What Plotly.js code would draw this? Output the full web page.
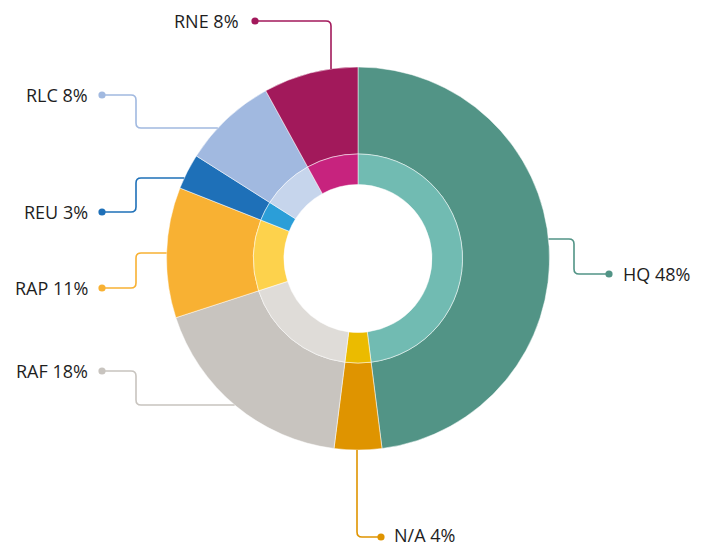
<!DOCTYPE html>
<html>
<head>
<meta charset="utf-8">
<script src="https://cdn.plot.ly/plotly-3.0.1.min.js"></script>
<style>html,body{margin:0;padding:0;background:#fff;}#chart{width:710px;height:546px;}</style>
</head>
<body>
<div id="chart"></div>
<script>
// ---- data ----
const categories = ["HQ", "N/A", "RAF", "RAP", "REU", "RLC", "RNE"];
const shares = [48, 4, 18, 11, 3, 8, 8];
const outerColors = ["#529486", "#df9400", "#c8c4bf", "#f8b133", "#1e70b8", "#a1b9e0", "#a2195b"];
const innerColors = ["#71bbb2", "#ebbb00", "#dfdcd8", "#fdd24c", "#2b9ed8", "#c6d5ec", "#c7237e"];
const labelTexts = categories.map((c, i) => c + " " + shares[i] + "%");

// ---- layout geometry (pixels) ----
const W = 710, H = 546;
const cx = 358, cy = 258.5, R = 191.5, rMid = 104.5, rHole = 74;

const px = x => x / W;
const py = y => (H - y) / H;

const outerTrace = {
  type: "pie", values: shares, labels: categories, sort: false, direction: "clockwise", rotation: 0,
  hole: rMid / R, textinfo: "none", hoverinfo: "label+percent", showlegend: false,
  marker: {colors: outerColors, line: {color: "#ffffff", width: 0.5}},
  domain: {x: [px(cx - R), px(cx + R)], y: [py(cy + R), py(cy - R)]}
};
const innerTrace = {
  type: "pie", values: shares, labels: categories, sort: false, direction: "clockwise", rotation: 0,
  hole: rHole / rMid, textinfo: "none", hoverinfo: "label+percent", showlegend: false,
  marker: {colors: innerColors, line: {color: "#ffffff", width: 0.5}},
  domain: {x: [px(cx - rMid), px(cx + rMid)], y: [py(cy + rMid), py(cy - rMid)]}
};

// leader line routing: start on ring edge, elbow, end at dot
function edgeXAtY(y, side) { const d = Math.sqrt(R * R - (y - cy) * (y - cy)); return side > 0 ? cx + d : cx - d; }
function edgeYAtX(x, side) { const d = Math.sqrt(R * R - (x - cx) * (x - cx)); return side > 0 ? cy + d : cy - d; }

const leaders = [
  {pts: [[edgeXAtY(239, 1), 239], [574, 239], [574, 274], [609, 274]], tx: 622, ty: 274, align: "left"},
  {pts: [[357, edgeYAtX(357, 1)], [357, 537], [381, 537]], tx: 393, ty: 534.5, align: "left"},
  {pts: [[edgeXAtY(405, -1), 405], [136, 405], [136, 371], [102, 371]], tx: 89, ty: 371, align: "right"},
  {pts: [[edgeXAtY(253, -1), 253], [136, 253], [136, 288], [102, 288]], tx: 89, ty: 288, align: "right"},
  {pts: [[edgeXAtY(178, -1), 178], [136, 178], [136, 212], [102, 212]], tx: 89, ty: 212, align: "right"},
  {pts: [[edgeXAtY(128, -1), 128], [136, 128], [136, 95], [102, 95]], tx: 89, ty: 95, align: "right"},
  {pts: [[331, edgeYAtX(331, -1)], [331, 21], [255, 21]], tx: 240, ty: 21, align: "right"}
];

function roundedPath(pts, r) {
  let s = "M" + px(pts[0][0]) + "," + py(pts[0][1]);
  for (let i = 1; i < pts.length - 1; i++) {
    const [x0, y0] = pts[i - 1], [x1, y1] = pts[i], [x2, y2] = pts[i + 1];
    const d1 = Math.hypot(x1 - x0, y1 - y0), d2 = Math.hypot(x2 - x1, y2 - y1);
    const a = [x1 - (x1 - x0) / d1 * r, y1 - (y1 - y0) / d1 * r];
    const b = [x1 + (x2 - x1) / d2 * r, y1 + (y2 - y1) / d2 * r];
    s += " L" + px(a[0]) + "," + py(a[1]) + " Q" + px(x1) + "," + py(y1) + " " + px(b[0]) + "," + py(b[1]);
  }
  const last = pts[pts.length - 1];
  s += " L" + px(last[0]) + "," + py(last[1]);
  return s;
}

const shapes = [], annotations = [];
leaders.forEach((L, i) => {
  shapes.push({type: "path", xref: "paper", yref: "paper", path: roundedPath(L.pts, 5),
    line: {color: outerColors[i], width: 1.6}});
  const end = L.pts[L.pts.length - 1], dr = 3.6;
  shapes.push({type: "circle", xref: "paper", yref: "paper",
    x0: px(end[0] - dr), x1: px(end[0] + dr), y0: py(end[1] + dr), y1: py(end[1] - dr),
    fillcolor: outerColors[i], line: {width: 0}});
  annotations.push({xref: "paper", yref: "paper", x: px(L.tx), y: py(L.ty), text: labelTexts[i],
    showarrow: false, xanchor: L.align, yanchor: "middle", borderpad: 0,
    font: {family: "'Open Sans', sans-serif", size: 18, color: "#1e1e1e", weight: 400}});
});

const layout = {
  width: W, height: H, margin: {l: 0, r: 0, t: 0, b: 0},
  paper_bgcolor: "#ffffff", plot_bgcolor: "#ffffff",
  shapes: shapes, annotations: annotations, showlegend: false
};

Plotly.newPlot("chart", [outerTrace, innerTrace], layout, {displayModeBar: false, staticPlot: true});
</script>
</body>
</html>
